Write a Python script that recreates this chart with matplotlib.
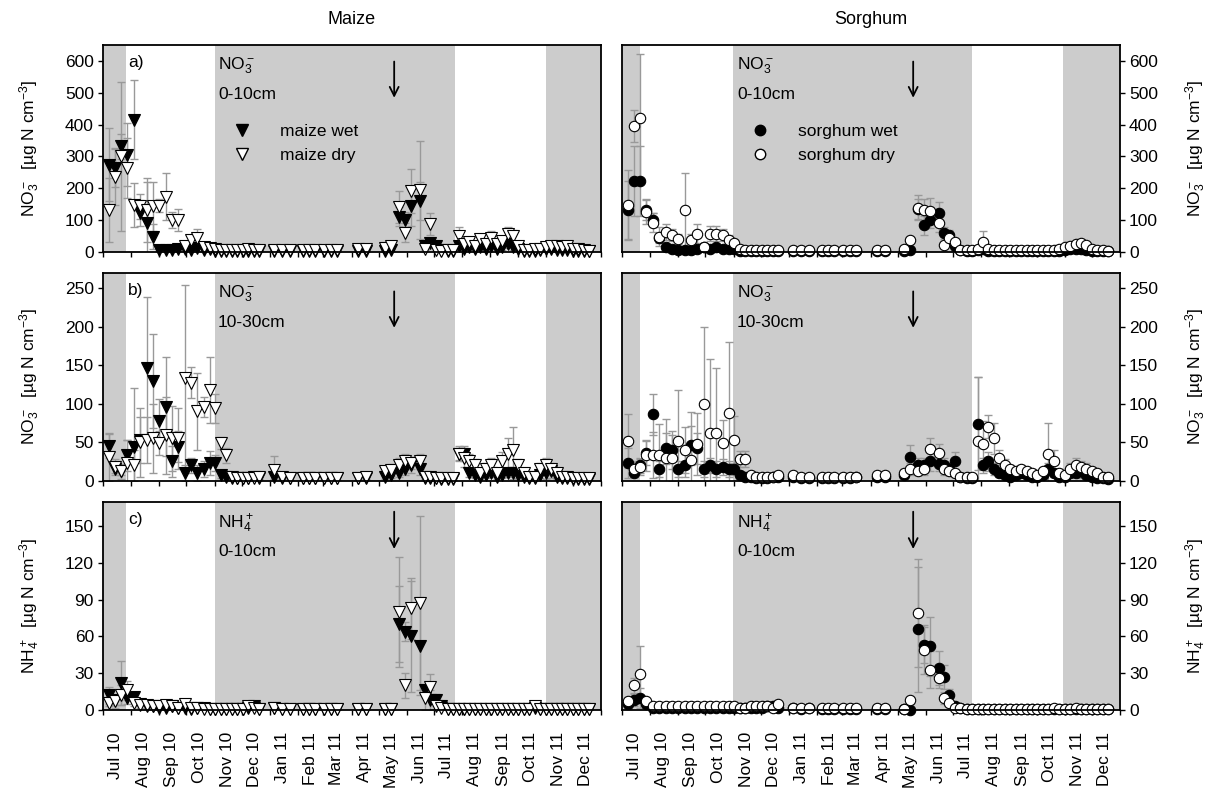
import pandas as pd
import matplotlib.pyplot as plt
import matplotlib.dates as mdates
from matplotlib.lines import Line2D

plt.rcParams['font.family'] = ['Liberation Sans', 'DejaVu Sans']
plt.rcParams['mathtext.fontset'] = 'custom'
plt.rcParams['mathtext.rm'] = 'Liberation Sans'
plt.rcParams['mathtext.it'] = 'Liberation Sans:italic'
plt.rcParams['mathtext.bf'] = 'Liberation Sans:bold'

# sampling dates (same for all series)
sample_dates = [
    '2010-07-08', '2010-07-14', '2010-07-21', '2010-07-28', '2010-08-04', '2010-08-11', '2010-08-18',
    '2010-08-25', '2010-09-01', '2010-09-08', '2010-09-15', '2010-09-22', '2010-09-29', '2010-10-06',
    '2010-10-13', '2010-10-20', '2010-10-27',
    '2010-11-02', '2010-11-08', '2010-11-14', '2010-11-20', '2010-11-26', '2010-12-02', '2010-12-08',
    '2010-12-14', '2010-12-20',
    '2011-01-05', '2011-01-14', '2011-01-23', '2011-02-06', '2011-02-13', '2011-02-20', '2011-03-02',
    '2011-03-09', '2011-03-16', '2011-04-08', '2011-04-17', '2011-05-08', '2011-05-15',
    '2011-05-23', '2011-05-30', '2011-06-06', '2011-06-16', '2011-06-21', '2011-06-27', '2011-07-03',
    '2011-07-09',
    '2011-07-16', '2011-07-22', '2011-07-28', '2011-08-03', '2011-08-09', '2011-08-15', '2011-08-21',
    '2011-08-27', '2011-09-02', '2011-09-08', '2011-09-14', '2011-09-20', '2011-09-26', '2011-10-02',
    '2011-10-08', '2011-10-14', '2011-10-20', '2011-10-26', '2011-11-01', '2011-11-07', '2011-11-13',
    '2011-11-19', '2011-11-25', '2011-12-01', '2011-12-07', '2011-12-13', '2011-12-19']

# ---- maize ----
mz_top_wet = [274, 263, 332, 306, 416, 122, 90, 48, 6, 6, 5, 8, 10, 6, 12, 5, 8,
              4, 3, 3, 3, 3, 3, 3, 3, 3,
              3, 3, 3, 3, 3, 3, 3, 3, 3, 3, 3, 3, 5,
              111, 102, 143, 159, 20, 27, 20, 5,
              3, 3, 20, 10, 15, 10, 15, 8, 20, 10, 15, 25, 15, 8, 3, 3, 3, 5, 8, 8, 5, 5, 5, 3, 3, 2, 2]
mz_top_wet_err = [115, 60, 40, 100, 125, 40, 130, 40, 3, 3, 3, 5, 5, 3, 8, 3, 5,
                  2, 2, 2, 2, 2, 2, 2, 2, 2,
                  2, 2, 2, 2, 2, 2, 2, 2, 2, 2, 2, 2, 3,
                  30, 25, 60, 60, 10, 10, 8, 3,
                  2, 2, 10, 5, 8, 5, 8, 5, 10, 5, 8, 12, 8, 5, 2, 2, 2, 3, 5, 5, 3, 3, 3, 2, 2, 2, 2]
mz_top_dry = [132, 237, 300, 264, 148, 143, 132, 143, 145, 174, 101, 101, 18, 38, 44, 15, 12,
              8, 5, 5, 5, 5, 5, 8, 5, 5,
              5, 5, 5, 5, 5, 5, 5, 5, 5, 8, 8, 12, 18,
              140, 60, 192, 195, 10, 87, 5, 3,
              5, 5, 50, 25, 30, 20, 40, 25, 45, 25, 35, 55, 50, 20, 5, 5, 8, 10, 15, 20, 18, 15, 20, 10, 8, 5, 3]
mz_top_dry_err = [100, 90, 235, 94, 68, 40, 100, 78, 20, 74, 25, 35, 5, 15, 28, 5, 5,
                  3, 2, 2, 2, 2, 2, 3, 2, 2,
                  2, 2, 2, 2, 2, 2, 2, 2, 2, 3, 3, 5, 8,
                  50, 30, 70, 155, 5, 35, 3, 2,
                  2, 2, 30, 10, 12, 10, 15, 10, 20, 10, 15, 25, 20, 8, 2, 2, 3, 5, 8, 10, 8, 5, 8, 5, 3, 2, 2]

mz_mid_wet = [45, 15, 12, 33, 44, 53, 146, 129, 78, 96, 25, 44, 10, 20, 10, 15, 23,
              23, 7, 5, 3, 3, 3, 3, 5, 3,
              5, 3, 3, 3, 3, 3, 3, 3, 3, 3, 3, 5, 8,
              10, 15, 20, 15, 3, 3, 3, 2,
              2, 2, 35, 35, 10, 8, 5, 8, 10, 5, 8, 10, 10, 8, 5, 3, 3, 8, 10, 12, 5, 3, 3, 2, 2, 2, 2]
mz_mid_wet_err = [15, 5, 5, 20, 76, 30, 92, 61, 28, 64, 20, 20, 10, 10, 10, 10, 15,
                  10, 3, 3, 2, 2, 2, 2, 3, 2,
                  3, 2, 2, 2, 2, 2, 2, 2, 2, 2, 2, 3, 5,
                  5, 8, 10, 8, 2, 2, 2, 1,
                  1, 1, 8, 10, 5, 5, 3, 5, 5, 3, 5, 5, 8, 5, 3, 2, 2, 5, 8, 8, 3, 2, 2, 1, 1, 1, 1]
mz_mid_dry = [31, 18, 12, 23, 20, 50, 53, 55, 49, 59, 55, 55, 133, 127, 90, 96, 118,
              94, 49, 33, 5, 3, 3, 3, 3, 5,
              14, 5, 3, 3, 3, 3, 3, 3, 3, 3, 5, 12, 14,
              20, 25, 23, 25, 5, 5, 3, 3,
              3, 3, 35, 30, 25, 20, 10, 15, 20, 10, 25, 35, 40, 20, 10, 5, 5, 15, 20, 15, 10, 5, 5, 3, 3, 3, 3]
mz_mid_dry_err = [31, 10, 10, 30, 20, 45, 30, 45, 15, 50, 42, 40, 121, 20, 50, 13, 43,
                  19, 8, 10, 3, 2, 2, 2, 2, 3,
                  18, 3, 2, 2, 2, 2, 2, 2, 2, 2, 3, 5, 8,
                  10, 10, 8, 10, 3, 3, 2, 2,
                  2, 2, 10, 12, 10, 8, 5, 8, 10, 5, 12, 20, 30, 8, 5, 3, 3, 8, 10, 8, 5, 3, 3, 2, 2, 2, 2]

mz_nh4_wet = [12, 8, 22, 10, 11, 5, 3, 3, 2, 2, 3, 2, 2, 1, 2, 2, 1,
              1, 1, 1, 1, 1, 1, 2, 3, 1,
              2, 1, 1, 1, 1, 1, 1, 1, 1, 1, 1, 1, 1,
              70, 64, 60, 52, 16, 8, 8, 3,
              1, 1, 1, 1, 1, 1, 1, 1, 1, 1, 1, 1, 1, 1, 1, 1, 2, 1, 1, 1, 1, 1, 1, 1, 1, 1, 1]
mz_nh4_wet_err = [7, 4, 18, 5, 4, 2, 2, 2, 1, 1, 2, 1, 1, 1, 1, 1, 1,
                  1, 1, 1, 1, 1, 1, 1, 2, 1,
                  1, 1, 1, 1, 1, 1, 1, 1, 1, 1, 1, 1, 1,
                  31, 8, 45, 40, 5, 8, 5, 2,
                  1, 1, 1, 1, 1, 1, 1, 1, 1, 1, 1, 1, 1, 1, 1, 1, 1, 1, 1, 1, 1, 1, 1, 1, 1, 1, 1]
mz_nh4_dry = [6, 7, 12, 16, 6, 4, 4, 3, 3, 4, 3, 2, 5, 2, 2, 1, 1,
              1, 1, 1, 1, 1, 1, 3, 2, 1,
              2, 1, 1, 1, 1, 1, 1, 1, 1, 1, 1, 1, 1,
              80, 20, 83, 87, 10, 19, 3, 2,
              1, 1, 1, 1, 1, 1, 1, 1, 1, 1, 1, 1, 1, 1, 1, 1, 3, 1, 1, 1, 1, 1, 1, 1, 1, 1, 1]
mz_nh4_dry_err = [3, 5, 8, 8, 3, 2, 2, 2, 2, 3, 2, 1, 3, 1, 1, 1, 1,
                  1, 1, 1, 1, 1, 1, 2, 1, 1,
                  1, 1, 1, 1, 1, 1, 1, 1, 1, 1, 1, 1, 1,
                  45, 10, 25, 71, 10, 10, 2, 1,
                  1, 1, 1, 1, 1, 1, 1, 1, 1, 1, 1, 1, 1, 1, 1, 1, 2, 1, 1, 1, 1, 1, 1, 1, 1, 1, 1]

# ---- sorghum ----
sg_top_wet = [132, 222, 222, 132, 101, 43, 15, 8, 5, 5, 5, 8, 15, 10, 15, 10, 10,
              8, 3, 3, 3, 3, 3, 3, 3, 3,
              3, 3, 3, 3, 3, 3, 3, 3, 3, 3, 3, 3, 5,
              135, 84, 100, 121, 60, 53, 20, 5,
              3, 3, 5, 10, 3, 3, 3, 3, 3, 3, 3, 3, 3, 3, 3, 3, 3, 3, 5, 8, 10, 8, 5, 3, 3, 2, 2]
sg_top_wet_err = [90, 110, 110, 30, 20, 15, 10, 5, 3, 3, 3, 5, 8, 5, 8, 5, 5,
                  5, 2, 2, 2, 2, 2, 2, 2, 2,
                  2, 2, 2, 2, 2, 2, 2, 2, 2, 2, 2, 2, 3,
                  30, 30, 25, 35, 20, 15, 8, 3,
                  2, 2, 3, 5, 2, 2, 2, 2, 2, 2, 2, 2, 2, 2, 2, 2, 2, 2, 3, 5, 5, 5, 3, 2, 2, 1, 1]
sg_top_dry = [148, 395, 421, 127, 92, 48, 63, 53, 40, 132, 37, 58, 16, 58, 58, 53, 37,
              27, 8, 5, 5, 5, 5, 5, 5, 5,
              5, 5, 5, 5, 5, 5, 5, 5, 5, 5, 5, 10, 37,
              139, 132, 128, 92, 23, 43, 32, 5,
              5, 5, 10, 30, 8, 5, 5, 5, 5, 5, 5, 5, 5, 5, 5, 5, 5, 8, 15, 18, 25, 28, 22, 10, 5, 5, 3]
sg_top_dry_err = [110, 50, 200, 40, 30, 30, 25, 20, 15, 116, 20, 30, 10, 25, 25, 20, 15,
                  10, 3, 2, 2, 2, 2, 2, 2, 2,
                  2, 2, 2, 2, 2, 2, 2, 2, 2, 2, 2, 5, 10,
                  40, 35, 40, 30, 10, 15, 10, 3,
                  2, 2, 5, 35, 3, 2, 2, 2, 2, 2, 2, 2, 2, 2, 2, 2, 2, 3, 5, 8, 10, 10, 8, 5, 2, 2, 2]

sg_mid_wet = [23, 10, 20, 36, 86, 15, 42, 40, 15, 20, 46, 42, 15, 20, 15, 18, 15,
              15, 8, 5, 5, 3, 3, 3, 5, 5,
              5, 3, 3, 3, 3, 3, 3, 3, 5, 5, 5, 8, 31,
              20, 20, 25, 22, 20, 15, 25, 5,
              3, 3, 74, 20, 25, 15, 10, 8, 5, 8, 10, 8, 5, 5, 8, 15, 10, 5, 5, 10, 10, 12, 8, 5, 3, 3, 2]
sg_mid_wet_err = [20, 5, 10, 15, 27, 10, 20, 25, 10, 15, 25, 20, 10, 10, 10, 10, 10,
                  8, 5, 3, 3, 2, 2, 2, 3, 3,
                  3, 2, 2, 2, 2, 2, 2, 2, 3, 3, 3, 5, 15,
                  10, 10, 12, 10, 10, 8, 12, 3,
                  2, 2, 60, 10, 12, 8, 5, 5, 3, 5, 5, 5, 3, 3, 5, 8, 5, 3, 3, 5, 5, 8, 5, 3, 2, 2, 1]
sg_mid_dry = [52, 15, 18, 33, 33, 33, 29, 29, 52, 40, 27, 48, 99, 62, 62, 49, 88,
              53, 28, 28, 8, 5, 5, 5, 5, 8,
              8, 5, 5, 5, 5, 5, 5, 5, 5, 8, 8, 10, 15,
              12, 15, 41, 36, 15, 12, 10, 5,
              5, 5, 51, 48, 70, 55, 30, 20, 15, 12, 15, 12, 10, 8, 12, 35, 25, 10, 8, 15, 20, 18, 15, 12, 10, 5, 5]
sg_mid_dry_err = [35, 10, 10, 20, 30, 40, 51, 30, 66, 30, 62, 40, 101, 96, 84, 30, 92,
                  31, 10, 10, 3, 2, 2, 2, 2, 3,
                  3, 2, 2, 2, 2, 2, 2, 2, 2, 3, 3, 5, 8,
                  5, 8, 15, 12, 8, 5, 5, 2,
                  2, 2, 83, 30, 15, 20, 10, 8, 5, 5, 5, 5, 5, 3, 5, 40, 15, 5, 3, 8, 10, 8, 8, 5, 5, 2, 2]

sg_nh4_wet = [5, 8, 10, 5, 2, 2, 2, 2, 2, 2, 2, 2, 2, 2, 2, 2, 2,
              2, 2, 2, 2, 2, 2, 3, 3, 2,
              2, 1, 2, 1, 1, 1, 1, 1, 1, 1, 1, 1, 0,
              66, 53, 52, 34, 27, 12, 3, 2,
              1, 1, 1, 1, 1, 1, 1, 1, 1, 1, 1, 1, 1, 1, 1, 1, 1, 1, 1, 1, 1, 1, 1, 1, 1, 1, 1]
sg_nh4_wet_err = [4, 5, 8, 3, 1, 1, 1, 1, 1, 1, 1, 1, 1, 1, 1, 1, 1,
                  1, 1, 1, 1, 1, 1, 1, 1, 1,
                  1, 1, 1, 1, 1, 1, 1, 1, 1, 1, 1, 1, 1,
                  51, 15, 24, 14, 10, 5, 2, 1,
                  1, 1, 1, 1, 1, 1, 1, 1, 1, 1, 1, 1, 1, 1, 1, 1, 1, 1, 1, 1, 1, 1, 1, 1, 1, 1, 1]
sg_nh4_dry = [7, 20, 29, 7, 3, 3, 3, 3, 3, 3, 3, 3, 3, 3, 3, 3, 3,
              3, 2, 2, 3, 3, 3, 3, 2, 5,
              2, 2, 2, 2, 2, 2, 2, 2, 2, 2, 2, 1, 8,
              79, 49, 33, 26, 10, 6, 2, 2,
              1, 1, 1, 1, 1, 1, 1, 1, 1, 1, 1, 1, 1, 1, 1, 1, 2, 1, 1, 1, 2, 1, 1, 1, 1, 1, 1]
sg_nh4_dry_err = [3, 6, 23, 3, 1, 1, 1, 1, 1, 1, 1, 1, 1, 1, 1, 1, 1,
                  1, 1, 1, 1, 1, 1, 1, 1, 1,
                  1, 1, 1, 1, 1, 1, 1, 1, 1, 1, 1, 1, 3,
                  44, 20, 15, 8, 5, 3, 1, 1,
                  1, 1, 1, 1, 1, 1, 1, 1, 1, 1, 1, 1, 1, 1, 1, 1, 1, 1, 1, 1, 1, 1, 1, 1, 1, 1, 1]

# dry (non-growing) season shading
maize_shade = [('2010-07-01', '2010-07-26'), ('2010-11-01', '2011-07-24'), ('2011-11-01', '2012-01-01')]
sorghum_shade = [('2010-07-01', '2010-07-21'), ('2010-10-31', '2011-07-22'), ('2011-10-30', '2012-01-01')]
fert_date = '2011-05-18'

dates = pd.to_datetime(sample_dates)
x_start, x_end = pd.Timestamp('2010-07-01'), pd.Timestamp('2012-01-01')

fig = plt.figure(figsize=(12.13, 7.99), dpi=100)
W = 1213.0
H = 799.0
col_x = [103 / W, 622 / W]
ax_w = 498 / W
rows = [(45, 252), (272.7, 480.7), (501.7, 710)]

ylims = [(0, 650), (0, 270), (0, 170)]
yticks = [range(0, 601, 100), range(0, 251, 50), range(0, 151, 30)]
ylabels = [r'NO$_3^-$  [µg N cm$^{-3}$]', r'NO$_3^-$  [µg N cm$^{-3}$]', r'NH$_4^+$  [µg N cm$^{-3}$]']
ion_txt = [r'NO$_3^-$', r'NO$_3^-$', r'NH$_4^+$']
depth_txt = ['0-10cm', '10-30cm', '0-10cm']
panel_tags = ['a)', 'b)', 'c)']
arrow_y = [(0.92, 0.745), (0.91, 0.735), (0.952, 0.773)]

maize_data = [(mz_top_wet, mz_top_wet_err, mz_top_dry, mz_top_dry_err),
              (mz_mid_wet, mz_mid_wet_err, mz_mid_dry, mz_mid_dry_err),
              (mz_nh4_wet, mz_nh4_wet_err, mz_nh4_dry, mz_nh4_dry_err)]
sorghum_data = [(sg_top_wet, sg_top_wet_err, sg_top_dry, sg_top_dry_err),
                (sg_mid_wet, sg_mid_wet_err, sg_mid_dry, sg_mid_dry_err),
                (sg_nh4_wet, sg_nh4_wet_err, sg_nh4_dry, sg_nh4_dry_err)]

err_col = '#999999'
fs = 12.5


def draw_panel(ax, series, marker, shade, row, right):
    wet, wet_err, dry, dry_err = series
    for s, e in shade:
        ax.axvspan(pd.Timestamp(s), pd.Timestamp(e), color='#cccccc', lw=0, zorder=0)
    for vals, errs in [(wet, wet_err), (dry, dry_err)]:
        ax.errorbar(dates, vals, yerr=errs, fmt='none', ecolor=err_col, elinewidth=1,
                    capsize=3, capthick=1, zorder=2)
    ms = 8 if marker == 'v' else 7.5
    ax.plot(dates, wet, ls='none', marker=marker, ms=ms, mfc='black', mec='black',
            mew=0.8, zorder=3, clip_on=False)
    ax.plot(dates, dry, ls='none', marker=marker, ms=ms, mfc='white', mec='black',
            mew=0.8, zorder=4, clip_on=False)

    ax.set_xlim(x_start, x_end)
    ax.set_ylim(*ylims[row])
    ax.set_yticks(list(yticks[row]))
    ax.xaxis.set_major_locator(mdates.MonthLocator())
    ax.xaxis.set_minor_locator(mdates.MonthLocator(bymonthday=15))
    ax.xaxis.set_major_formatter(plt.NullFormatter())
    if row == 2:
        ax.xaxis.set_minor_formatter(mdates.DateFormatter('%b %y'))
        for lab in ax.get_xticklabels(minor=True):
            lab.set_rotation(90)
    else:
        ax.xaxis.set_minor_formatter(plt.NullFormatter())
    ax.tick_params(axis='x', which='major', direction='out', length=3.5, width=1)
    ax.tick_params(axis='x', which='minor', length=0, pad=16, labelsize=fs)
    ax.tick_params(axis='y', direction='out', length=3.5, width=1, labelsize=fs, pad=3)
    for sp in ax.spines.values():
        sp.set_linewidth(1.3)
        sp.set_zorder(5)

    if right:
        ax.yaxis.tick_right()
        ax.yaxis.set_label_position('right')
        ax.set_ylabel(ylabels[row], fontsize=fs, rotation=90)
        ax.yaxis.set_label_coords(1.127, 0.5)
    else:
        ax.set_ylabel(ylabels[row], fontsize=fs)
        ax.yaxis.set_label_coords(-0.122, 0.5)
        ax.text(0.05, 0.95, panel_tags[row], transform=ax.transAxes, fontsize=fs,
                va='top', ha='left', zorder=6)

    ax.text(0.231, 0.95, ion_txt[row], transform=ax.transAxes, fontsize=fs,
            va='top', ha='left', zorder=6)
    ax.text(0.231, 0.795, depth_txt[row], transform=ax.transAxes, fontsize=fs,
            va='top', ha='left', zorder=6)

    ya, yb = arrow_y[row]
    ax.annotate('', xy=(pd.Timestamp(fert_date), yb), xytext=(pd.Timestamp(fert_date), ya),
                xycoords=('data', 'axes fraction'), textcoords=('data', 'axes fraction'),
                arrowprops=dict(arrowstyle='->', lw=1.3, color='black', mutation_scale=16,
                                shrinkA=0, shrinkB=0), zorder=6)


for row, (top, bottom) in enumerate(rows):
    for col in range(2):
        ax = fig.add_axes([col_x[col], 1 - bottom / H, ax_w, (bottom - top) / H])
        if col == 0:
            draw_panel(ax, maize_data[row], 'v', maize_shade, row, False)
        else:
            draw_panel(ax, sorghum_data[row], 'o', sorghum_shade, row, True)
        if row == 0:
            if col == 0:
                handles = [Line2D([], [], ls='none', marker='v', ms=8, mfc='black', mec='black'),
                           Line2D([], [], ls='none', marker='v', ms=8, mfc='white', mec='black')]
                labels = ['maize wet', 'maize dry']
                anchor = (0.262, 0.62)
            else:
                handles = [Line2D([], [], ls='none', marker='o', ms=7.5, mfc='black', mec='black'),
                           Line2D([], [], ls='none', marker='o', ms=7.5, mfc='white', mec='black')]
                labels = ['sorghum wet', 'sorghum dry']
                anchor = (0.26, 0.62)
            leg = ax.legend(handles, labels, loc='upper left', bbox_to_anchor=anchor,
                            frameon=False, fontsize=fs, handlelength=1.0, handletextpad=1.7,
                            labelspacing=0.5, borderpad=0, borderaxespad=0)
            leg.set_zorder(6)

fig.text(352 / W, 1 - 20 / H, 'Maize', ha='center', va='center', fontsize=fs + 0.5)
fig.text(871 / W, 1 - 20 / H, 'Sorghum', ha='center', va='center', fontsize=fs + 0.5)

fig.savefig('out.png', dpi=100)
